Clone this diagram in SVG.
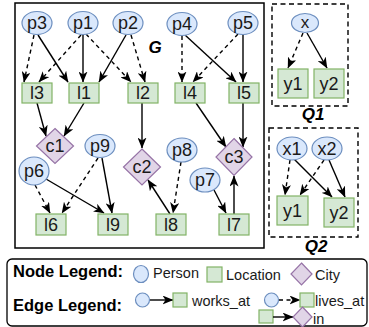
<svg xmlns="http://www.w3.org/2000/svg" width="369" height="327" viewBox="0 0 369 327">
  <style>
    .person { fill: #dae8fc; stroke: #6c8ebf; stroke-width: 1.2; }
    .loc { fill: #d5e8d4; stroke: #82b366; stroke-width: 1.2; }
    .city { fill: #e1d5e7; stroke: #9673a6; stroke-width: 1.2; }
    .lbl { font-family: "Liberation Sans", Arial, Helvetica, sans-serif; font-size: 18px; fill: #1a1a1a; text-anchor: middle; dominant-baseline: central; }
    .qlbl { font-size: 17px; }
    .title { font-family: "Liberation Sans", Arial, Helvetica, sans-serif; font-weight: bold; font-style: italic; font-size: 17px; fill: #000; text-anchor: middle; }
    .leg { font-family: "Liberation Sans", Arial, Helvetica, sans-serif; font-size: 14.5px; fill: #1a1a1a; }
    .legb { font-family: "Liberation Sans", Arial, Helvetica, sans-serif; font-size: 16.5px; font-weight: bold; fill: #000; }
    .edge { stroke: #000; stroke-width: 1.4; fill: none; marker-end: url(#arrow); }
    .dash { stroke-dasharray: 4 3.5; }
    .frame { fill: none; stroke: #000; stroke-width: 1.5; }
    .qframe { fill: none; stroke: #000; stroke-width: 1.4; stroke-dasharray: 5 3.5; }
  </style>
  <defs>
    <marker id="arrow" viewBox="0 0 11 9" refX="10.5" refY="4.5" markerWidth="11" markerHeight="9" markerUnits="userSpaceOnUse" orient="auto">
      <path d="M0,0 L11,4.5 L0,9 L3,4.5 Z" fill="#000"/>
    </marker>
  </defs>

  <!-- graph G frame -->
  <rect class="frame" x="15" y="3" width="249" height="245"/>
  <text class="title" x="155" y="53">G</text>

  <!-- query frames -->
  <rect class="qframe" x="272" y="4" width="76" height="102"/>
  <text class="title" x="313" y="120">Q1</text>
  <rect class="qframe" x="269" y="128" width="89" height="109"/>
  <text class="title" x="316" y="252">Q2</text>

  <!-- connectors -->
  <g id="edges">
    <line class="edge dash" x1="34" y1="35" x2="24" y2="82"/>
    <line class="edge" x1="38" y1="35" x2="68" y2="82"/>
    <line class="edge dash" x1="81" y1="35" x2="39" y2="82"/>
    <line class="edge" x1="83" y1="35" x2="83" y2="82"/>
    <line class="edge dash" x1="86" y1="34" x2="131" y2="82"/>
    <line class="edge" x1="126" y1="35" x2="99" y2="82"/>
    <line class="edge dash" x1="131" y1="35" x2="145" y2="82"/>
    <line class="edge dash" x1="182" y1="36" x2="182" y2="82"/>
    <line class="edge" x1="185" y1="35" x2="236" y2="82"/>
    <line class="edge dash" x1="238" y1="34" x2="193" y2="82"/>
    <line class="edge" x1="243" y1="35" x2="243" y2="82"/>
    <line class="edge" x1="37" y1="103" x2="46" y2="136"/>
    <line class="edge" x1="84" y1="103" x2="64" y2="136"/>
    <line class="edge" x1="142" y1="103" x2="142" y2="148"/>
    <line class="edge" x1="196" y1="103" x2="226" y2="147"/>
    <line class="edge" x1="243" y1="103" x2="243" y2="147"/>
    <line class="edge" x1="234" y1="214" x2="234" y2="176"/>
    <line class="edge" x1="214" y1="190" x2="226" y2="213"/>
    <line class="edge dash" x1="181" y1="162" x2="173" y2="213"/>
    <line class="edge" x1="170" y1="214" x2="148" y2="180"/>
    <line class="edge dash" x1="35" y1="185" x2="50" y2="213"/>
    <line class="edge" x1="46" y1="179" x2="104" y2="213"/>
    <line class="edge dash" x1="98" y1="158" x2="62" y2="213"/>
    <line class="edge" x1="102" y1="158" x2="112" y2="213"/>
    <!-- Q1 -->
    <line class="edge dash" x1="303" y1="33" x2="288" y2="68"/>
    <line class="edge" x1="307" y1="33" x2="327" y2="68"/>
    <!-- Q2 -->
    <line class="edge dash" x1="290" y1="160" x2="285" y2="195"/>
    <line class="edge" x1="294" y1="159" x2="332" y2="197"/>
    <line class="edge dash" x1="324" y1="160" x2="300" y2="195"/>
    <line class="edge" x1="329" y1="160" x2="345" y2="197"/>
  </g>

  <!-- persons in G -->
  <g id="p3"><ellipse class="person" cx="37" cy="23" rx="15" ry="11.5"/><text class="lbl" x="37" y="23">p3</text></g>
  <g id="p1"><ellipse class="person" cx="83" cy="23" rx="15" ry="11.5"/><text class="lbl" x="83" y="23">p1</text></g>
  <g id="p2"><ellipse class="person" cx="128" cy="23" rx="15" ry="11.5"/><text class="lbl" x="128" y="23">p2</text></g>
  <g id="p4"><ellipse class="person" cx="182" cy="24" rx="15" ry="11.5"/><text class="lbl" x="182" y="24">p4</text></g>
  <g id="p5"><ellipse class="person" cx="243" cy="23" rx="15" ry="11.5"/><text class="lbl" x="243" y="23">p5</text></g>
  <g id="p9"><ellipse class="person" cx="100" cy="146" rx="15" ry="11.5"/><text class="lbl" x="100" y="146">p9</text></g>
  <g id="p6"><ellipse class="person" cx="34" cy="171" rx="15" ry="14"/><text class="lbl" x="34" y="171">p6</text></g>
  <g id="p8"><ellipse class="person" cx="182" cy="150" rx="15" ry="12"/><text class="lbl" x="182" y="150">p8</text></g>
  <g id="p7"><ellipse class="person" cx="205" cy="180" rx="15" ry="12"/><text class="lbl" x="205" y="180">p7</text></g>

  <!-- locations in G -->
  <g id="l3"><rect class="loc" x="22" y="83" width="30" height="20"/><text class="lbl" x="37" y="93">l3</text></g>
  <g id="l1"><rect class="loc" x="69" y="83" width="30" height="20"/><text class="lbl" x="84" y="93">l1</text></g>
  <g id="l2"><rect class="loc" x="128" y="83" width="30" height="20"/><text class="lbl" x="143" y="93">l2</text></g>
  <g id="l4"><rect class="loc" x="175" y="83" width="30" height="20"/><text class="lbl" x="190" y="93">l4</text></g>
  <g id="l5"><rect class="loc" x="229" y="83" width="30" height="20"/><text class="lbl" x="244" y="93">l5</text></g>
  <g id="l6"><rect class="loc" x="36" y="214" width="30" height="21"/><text class="lbl" x="51" y="224.5">l6</text></g>
  <g id="l9"><rect class="loc" x="98" y="214" width="30" height="21"/><text class="lbl" x="113" y="224.5">l9</text></g>
  <g id="l8"><rect class="loc" x="156" y="214" width="30" height="21"/><text class="lbl" x="171" y="224.5">l8</text></g>
  <g id="l7"><rect class="loc" x="219" y="214" width="30" height="21"/><text class="lbl" x="234" y="224.5">l7</text></g>

  <!-- cities in G -->
  <g id="c1"><polygon class="city" points="55,128.5 73.5,146 55,163.5 36.5,146"/><text class="lbl" x="55" y="146">c1</text></g>
  <g id="c2"><polygon class="city" points="142,149 160.5,167 142,185 123.5,167"/><text class="lbl" x="142" y="167">c2</text></g>
  <g id="c3"><polygon class="city" points="234,138.5 252,157 234,175.5 216,157"/><text class="lbl" x="234" y="157">c3</text></g>

  <!-- Q1 nodes -->
  <g id="q1-x"><ellipse class="person" cx="305" cy="23" rx="13.5" ry="9.5"/><text class="lbl qlbl" x="305" y="22">x</text></g>
  <g id="q1-y1"><rect class="loc" x="278" y="69" width="30" height="29"/><text class="lbl" x="293" y="83.5">y1</text></g>
  <g id="q1-y2"><rect class="loc" x="314" y="69" width="30" height="29"/><text class="lbl" x="329" y="83.5">y2</text></g>

  <!-- Q2 nodes -->
  <g id="q2-x1"><ellipse class="person" cx="292" cy="148.5" rx="15" ry="11.5"/><text class="lbl" x="292" y="148.5">x1</text></g>
  <g id="q2-x2"><ellipse class="person" cx="327" cy="148.5" rx="15" ry="11.5"/><text class="lbl" x="327" y="148.5">x2</text></g>
  <g id="q2-y1"><rect class="loc" x="277" y="196" width="31" height="29"/><text class="lbl" x="292.5" y="210.5">y1</text></g>
  <g id="q2-y2"><rect class="loc" x="324" y="198" width="30" height="29"/><text class="lbl" x="339" y="212.5">y2</text></g>

  <!-- legend -->
  <g id="legend">
    <rect x="7" y="259" width="360" height="67" rx="5" fill="#fff" stroke="#000" stroke-width="1.3"/>
    <text class="legb" x="13" y="277">Node Legend:</text>
    <ellipse class="person" cx="141" cy="274" rx="7.5" ry="8.5"/>
    <text class="leg" x="153" y="278">Person</text>
    <rect class="loc" x="207" y="267" width="15" height="15"/>
    <text class="leg" x="226" y="280">Location</text>
    <polygon class="city" points="301.5,263 312,274 301.5,285 291,274"/>
    <text class="leg" x="315" y="280">City</text>

    <text class="legb" x="13" y="311">Edge Legend:</text>
    <ellipse class="person" cx="142.5" cy="300" rx="7" ry="7"/>
    <line class="edge" x1="150" y1="300" x2="173" y2="300"/>
    <rect class="loc" x="173" y="293" width="14" height="14"/>
    <text class="leg" x="192" y="306">works_at</text>
    <ellipse class="person" cx="271.5" cy="300" rx="7" ry="7"/>
    <line class="edge dash" x1="279" y1="300" x2="300" y2="300"/>
    <rect class="loc" x="300" y="293" width="14" height="14"/>
    <text class="leg" x="315" y="306">lives_at</text>
    <rect class="loc" x="259" y="310" width="14" height="13"/>
    <line class="edge" x1="273" y1="317" x2="293" y2="317"/>
    <polygon class="city" points="302.5,307 312,317 302.5,327 293,317"/>
    <text class="leg" x="313" y="324">in</text>
  </g>
</svg>
